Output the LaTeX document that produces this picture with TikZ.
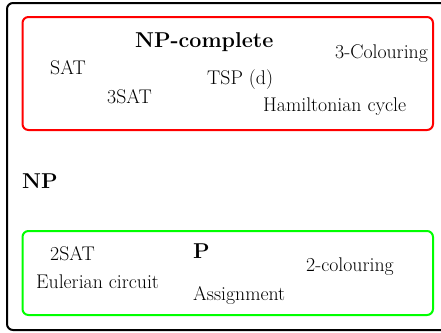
\documentclass[tikz,border=0pt]{standalone}
\tikzset{
  frame/.style={line width=2pt, rounded corners=6pt},
  item/.style={anchor=base west, inner sep=0pt, font=\fontsize{19.8}{22}\selectfont},
  classname/.style={anchor=base west, inner sep=0pt, font=\fontsize{21.5}{24}\selectfont\bfseries},
}
\begin{document}
\begin{tikzpicture}[x=1pt,y=-1pt]
\useasboundingbox (0,0) rectangle (441,332);
\begin{scope}
\clip (0,0) rectangle (441,332);
% NP
\draw[frame, black] (7,3) rectangle (450,330);
\end{scope}
% NP-complete region
\draw[frame, red] (22.5,17) rectangle (433,130);
% P region
\draw[frame, green] (22.5,231) rectangle (433,315);

\node[classname] (npc) at (135,47) {NP-complete};
\node[item] (sat) at (50,74) {SAT};
\node[item] (sat3) at (107,103) {3SAT};
\node[item] (tsp) at (207,84) {TSP (d)};
\node[item] (col3) at (335,58) {3-Colouring};
\node[item] (ham) at (263,111) {Hamiltonian cycle};

\node[classname] (np) at (22,188) {NP};

\node[classname] (p) at (193,258) {P};
\node[item] (sat2) at (50,260) {2SAT};
\node[item] (euler) at (36,288) {Eulerian circuit};
\node[item] (col2) at (306,271) {2-colouring};
\node[item] (assign) at (193,300) {Assignment};
\end{tikzpicture}
\end{document}
